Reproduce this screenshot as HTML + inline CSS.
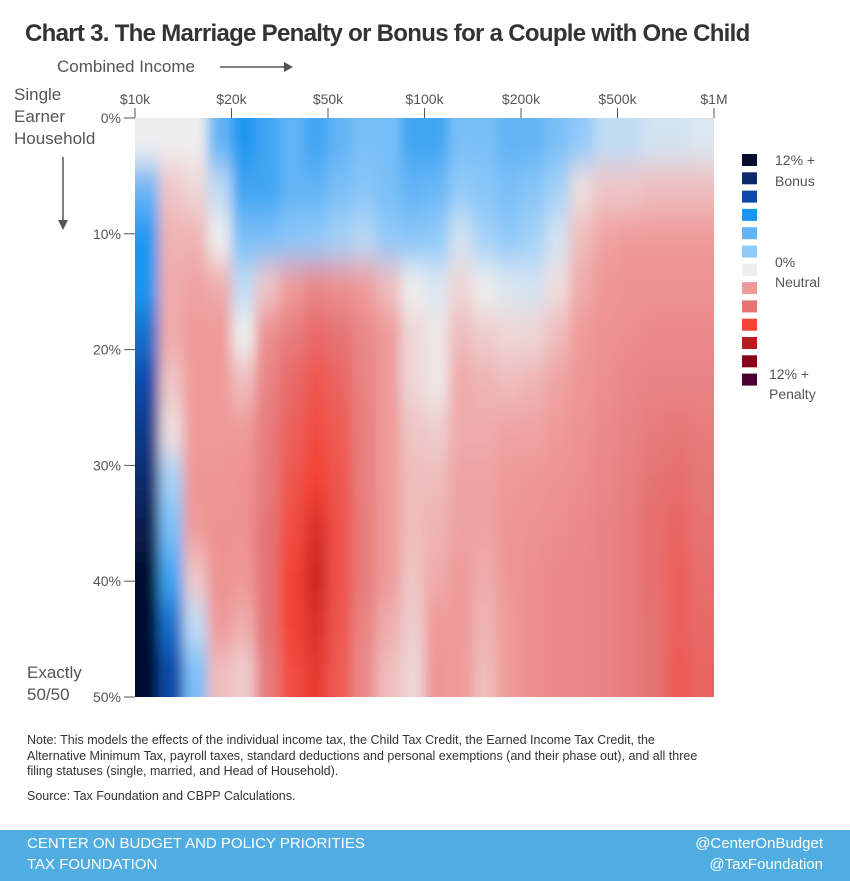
<!DOCTYPE html>
<html><head><meta charset="utf-8"><style>
body{margin:0;width:850px;height:881px;background:#fff;font-family:"Liberation Sans",sans-serif;position:relative;overflow:hidden}
.t{position:absolute;white-space:nowrap}
</style></head><body>
<div class="t" style="left:25px;top:20px;font-size:24px;font-weight:bold;color:#333;letter-spacing:-0.7px">Chart 3. The Marriage Penalty or Bonus for a Couple with One Child</div>
<div class="t" style="left:57px;top:57px;font-size:17px;color:#555">Combined Income</div>
<svg style="position:absolute;left:0;top:0" width="850" height="881" id="svg">
<defs>
<clipPath id="clip"><rect x="135" y="118" width="579" height="579"/></clipPath>
<filter id="blur" x="-10%" y="-10%" width="120%" height="120%"><feGaussianBlur stdDeviation="6 16"/></filter>
</defs>
<g><line x1="220" y1="67" x2="284" y2="67" stroke="#555" stroke-width="1.5"/><polygon points="284,62 293,67 284,72" fill="#555"/></g>
<g><line x1="63" y1="157" x2="63" y2="220" stroke="#555" stroke-width="1.5"/><polygon points="58,220 63,230 68,220" fill="#555"/></g>
<g clip-path="url(#clip)"><g id="heat" filter="url(#blur)"></g></g>
<g id="axes"></g>
<g id="legend"></g>
</svg>
<div class="t" style="left:14px;top:84px;font-size:17px;color:#555;line-height:22px">Single<br>Earner<br>Household</div>
<div class="t" style="left:27px;top:662px;font-size:17px;color:#555;line-height:22px">Exactly<br>50/50</div>
<div class="t" style="left:27px;top:733px;font-size:12.5px;color:#333;line-height:15.5px">Note: This models the effects of the individual income tax, the Child Tax Credit, the Earned Income Tax Credit, the<br>Alternative Minimum Tax, payroll taxes, standard deductions and personal exemptions (and their phase out), and all three<br>filing statuses (single, married, and Head of Household).</div>
<div class="t" style="left:27px;top:789px;font-size:12.5px;color:#333">Source: Tax Foundation and CBPP Calculations.</div>
<div style="position:absolute;left:0;top:830px;width:850px;height:51px;background:#50ade2"></div>
<div class="t" style="left:27px;top:835px;font-size:15px;color:#fff">CENTER ON BUDGET AND POLICY PRIORITIES</div>
<div class="t" style="left:27px;top:856px;font-size:15px;color:#fff">TAX FOUNDATION</div>
<div class="t" style="right:27px;top:835px;font-size:15px;color:#fff">@CenterOnBudget</div>
<div class="t" style="right:27px;top:856px;font-size:15px;color:#fff">@TaxFoundation</div>
<script>
const xTickLabels=["$10k","$20k","$50k","$100k","$200k","$500k","$1M"];
const yTickLabels=["0%","10%","20%","30%","40%","50%"];
const legendColors=["#020a2e","#0c2a6e","#0d4aa8","#1e96f0","#62b4f5","#90caf9","#eeeeee","#ef9a9a","#e57373","#f44336","#b71c1c","#880018","#4a0030"];
// values in units of 2% (negative = bonus, positive = penalty); rows: 0% -> 50%
const row0=[0,0,0,-2,-3,-2.5,-2,-2.5,-2,-1.5,-1.5,-2.5,-2.5,-1.5,-1.5,-2,-2,-1.5,-1,-0.5,-0.5,-0.3,-0.3,-0.2];
const row1=[-2,0.5,0.3,-0.5,-2.5,-2.5,-2,-2,-1.5,-1.2,-1.5,-2,-1.8,-1,-1.2,-1.5,-1.2,-0.8,0.2,0.5,0.5,0.6,0.6,0.6];
const row2=[-3,0.7,0.7,0,-1.5,-1.5,-1.2,-1,-0.8,-0.6,-1,-1.2,-1,-0.3,-0.8,-1,-0.8,-0.3,0.6,0.9,1,1,1,1];
const row3=[-3,0.8,0.9,0.8,-0.5,0.5,1,1.5,1.3,1,0.6,0,-0.2,0.3,0,-0.2,-0.3,0.2,0.8,1.1,1.2,1.2,1.2,1.2];
const row4=[-3.5,0.8,1,1,0,1.3,1.8,2.2,2,1.5,1,0.3,0.1,0.6,0.4,0.3,0.3,0.6,1,1.2,1.3,1.4,1.4,1.4];
const row5=[-4,0.5,1,1,0.6,1.6,2.2,2.6,2.3,1.6,1,0.3,0.1,0.8,0.7,0.6,0.7,0.9,1.1,1.3,1.5,1.6,1.6,1.6];
const row6=[-4.5,0.2,1,1,1,1.8,2.4,2.8,2.5,1.7,1,0.5,0.4,0.8,0.8,0.9,0.9,1,1.2,1.4,1.6,1.8,1.9,1.8];
const row7=[-5,-0.8,1.1,1.1,1.2,1.8,2.6,3,2.6,1.7,1,0.6,0.6,0.9,0.9,1,1.1,1.2,1.3,1.5,1.7,2,2.1,1.9];
const row8=[-5.5,-1.5,1,1.2,1.2,2,2.8,3.4,2.7,1.8,1,0.6,0.7,0.9,0.9,1.1,1.2,1.3,1.4,1.6,1.8,2.1,2.3,2];
const row9=[-6,-2.5,0.5,1.2,1.1,2,3,3.6,2.7,1.8,1,0.5,0.8,1,0.8,1.1,1.3,1.4,1.5,1.6,1.8,2.1,2.4,2.1];
const row10=[-6,-3.5,-0.5,1,0.8,2,3,3.4,2.6,1.6,0.8,0.4,1,1,0.7,1,1.3,1.4,1.5,1.6,1.8,2,2.4,2.2];
const row11=[-6,-4,-1.5,0.6,0.4,1.8,2.8,3.2,2.5,1.4,0.6,0.3,1.1,1,0.6,1,1.3,1.4,1.5,1.6,1.8,2,2.5,2.3];
const grid=[row0,row1,row2,row3,row4,row5,row6,row7,row8,row9,row10,row11];

const NS="http://www.w3.org/2000/svg";
const X0=135,X1=714,Y0=118,Y1=697;
const nc=grid[0].length,nr=grid.length;
const cw=(X1-X0)/nc,rh=(Y1-Y0)/nr;
function xScale(i){return X0+i*cw;}
function yScale(j){return Y0+j*rh;}
function hex(h){return [1,3,5].map(k=>parseInt(h.substr(k,2),16));}
function color(v){
  let t=Math.max(0,Math.min(12,v+6));let i=Math.min(11,Math.floor(t));let f=t-i;
  const a=hex(legendColors[i]),b=hex(legendColors[i+1]);
  return "rgb("+a.map((c,k)=>Math.round(c+(b[k]-c)*f)).join(",")+")";
}
const heat=document.getElementById('heat');
grid.forEach((row,j)=>row.forEach((v,i)=>{
  const r=document.createElementNS(NS,'rect');
  let x=xScale(i),y=yScale(j),w=cw,h=rh;
  if(i===0){x-=40;w+=40;} if(i===nc-1){w+=40;}
  if(j===0){y-=60;h+=60;} if(j===nr-1){h+=60;}
  r.setAttribute('x',x);r.setAttribute('y',y);r.setAttribute('width',w+0.6);r.setAttribute('height',h+0.6);
  r.setAttribute('fill',color(v));
  
  
  heat.appendChild(r);
}));
const axes=document.getElementById('axes');
xTickLabels.forEach((l,i)=>{
  const x=X0+i*(X1-X0)/(xTickLabels.length-1);
  const ln=document.createElementNS(NS,'line');
  ln.setAttribute('x1',x);ln.setAttribute('x2',x);ln.setAttribute('y1',108);ln.setAttribute('y2',118);
  ln.setAttribute('stroke','#555');
  
  
  axes.appendChild(ln);
  const t=document.createElementNS(NS,'text');
  t.setAttribute('x',x);t.setAttribute('y',104);t.setAttribute('text-anchor','middle');
  t.setAttribute('font-size','14');t.setAttribute('fill','#555');t.textContent=l;
  
  
  axes.appendChild(t);
});
yTickLabels.forEach((l,i)=>{
  const y=Y0+i*(Y1-Y0)/(yTickLabels.length-1);
  const ln=document.createElementNS(NS,'line');
  ln.setAttribute('x1',124);ln.setAttribute('x2',135);ln.setAttribute('y1',y);ln.setAttribute('y2',y);
  ln.setAttribute('stroke','#555');
  
  
  axes.appendChild(ln);
  const t=document.createElementNS(NS,'text');
  t.setAttribute('x',121);t.setAttribute('y',y+5);t.setAttribute('text-anchor','end');
  t.setAttribute('font-size','14');t.setAttribute('fill','#555');t.textContent=l;
  
  
  axes.appendChild(t);
});
const lg=document.getElementById('legend');
legendColors.forEach((c,i)=>{
  const r=document.createElementNS(NS,'rect');
  r.setAttribute('x',742);r.setAttribute('y',154+i*18.3);r.setAttribute('width',15);r.setAttribute('height',12);
  r.setAttribute('fill',c);
  
  
  lg.appendChild(r);
});
const legendText=[["12% +",165],["Bonus",186],["0%",267],["Neutral",287],["12% +",379],["Penalty",399]];
legendText.forEach(([s,y],i)=>{
  const t=document.createElementNS(NS,'text');
  t.setAttribute('x',i>=4?769:775);t.setAttribute('y',y);t.setAttribute('font-size','14');t.setAttribute('fill','#555');
  t.textContent=s;
  
  
  lg.appendChild(t);
});
</script>
</body></html>
